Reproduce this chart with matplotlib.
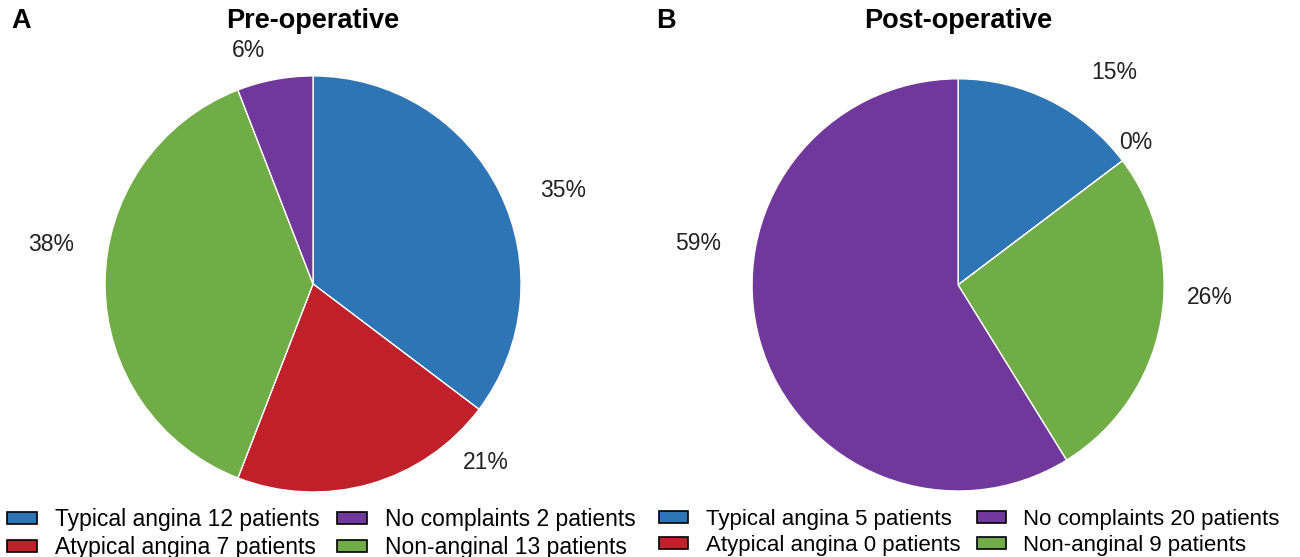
import matplotlib
matplotlib.use("Agg")
import matplotlib.pyplot as plt
from matplotlib.patches import Patch

plt.rcParams['font.family'] = ['Liberation Sans', 'DejaVu Sans']

# data
categories = ['Typical angina', 'Atypical angina', 'Non-anginal', 'No complaints']
colors = ['#2E75B6', '#C0202A', '#70AD47', '#70389A']
pre_counts = [12, 7, 13, 2]
post_counts = [5, 0, 9, 20]
panel_titles = ['Pre-operative', 'Post-operative']
panel_letters = ['A', 'B']

# where the percentage labels sit, in pie-radius units (as in the reference)
pre_label_pos = [(1.20, 0.45), (0.83, -0.86), (-1.26, 0.19), (-0.31, 1.12)]
post_label_pos = [(0.76, 1.03), (0.86, 0.69), (1.22, -0.06), (-1.26, 0.20)]

fig = plt.figure(figsize=(13, 5.57), dpi=100)

# axes placed so pies land where they are in the reference
ax_pos = [[0.0808, 0.1167, 0.32, 0.747],
          [0.5785, 0.1185, 0.317, 0.740]]
legend_x = [0.002, 0.5035]
legend_y = [-0.012, -0.006]
legend_fs = [16.5, 16.0]
letter_x = [0.009, 0.505]

for i, counts in enumerate([pre_counts, post_counts]):
    ax = fig.add_axes(ax_pos[i])
    wedges, texts, autotexts = ax.pie(
        counts, colors=colors, startangle=90, counterclock=False,
        autopct='%1.0f%%', pctdistance=1.22,
        wedgeprops=dict(edgecolor='white', linewidth=1.0),
        textprops=dict(fontsize=16.5, color='#222222'))
    ax.set_xlim(-1, 1)
    ax.set_ylim(-1, 1)
    ax.set_aspect('auto')
    label_pos = [pre_label_pos, post_label_pos][i]
    for t, p in zip(autotexts, label_pos):
        t.set_position(p)
        t.set_ha('center')
        t.set_va('center')

    # title and panel letter
    cx = ax_pos[i][0] + ax_pos[i][2] / 2
    fig.text(cx, 0.962, panel_titles[i], ha='center', va='center',
             fontsize=19.5, fontweight='bold')
    fig.text(letter_x[i], 0.962, panel_letters[i], ha='left', va='center',
             fontsize=19.5, fontweight='bold')

    # legend: first column typical/atypical, second no complaints/non-anginal
    order = [0, 1, 3, 2]
    handles = [Patch(facecolor=colors[k], edgecolor='black', linewidth=1.2)
               for k in order]
    labels = ['%s %d patients' % (categories[k], counts[k]) for k in order]
    fig.legend(handles, labels, ncol=2, loc='lower left',
               bbox_to_anchor=(legend_x[i], legend_y[i]), frameon=False,
               fontsize=legend_fs[i], handlelength=1.3, handleheight=0.45,
               handletextpad=0.8, columnspacing=0.75, labelspacing=0.22,
               borderaxespad=0.0, borderpad=0.2)

fig.savefig('out.png', dpi=100)
